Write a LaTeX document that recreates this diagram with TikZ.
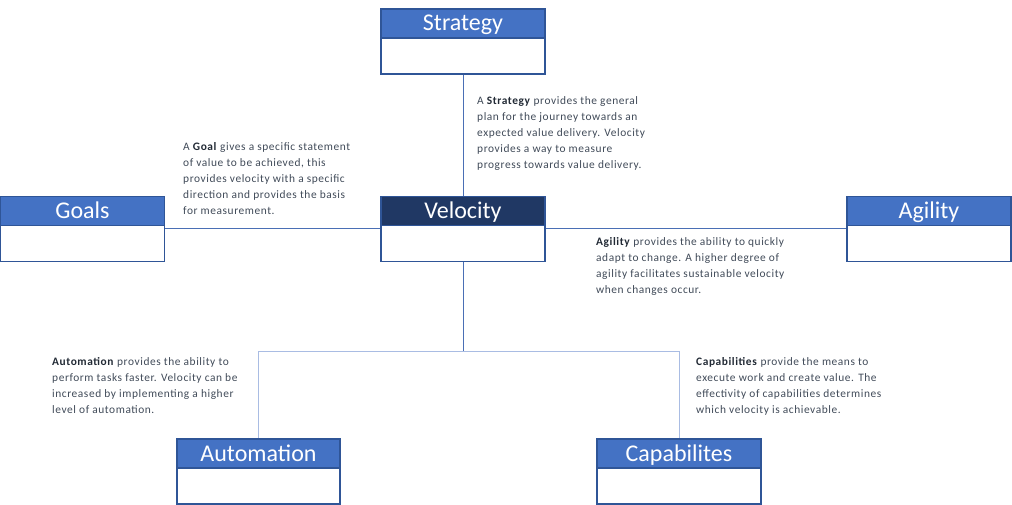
\documentclass[tikz,border=0pt]{standalone}
\usepackage{fontspec}
\setmainfont{Carlito}
\newfontfamily\descfont[LetterSpace=5]{Carlito}
\definecolor{hdr}{HTML}{4472C4}
\definecolor{hdrdark}{HTML}{203864}
\definecolor{bord}{HTML}{2F5597}
\definecolor{conn}{HTML}{4A6FB5}
\definecolor{connlight}{HTML}{A9BCE3}
\definecolor{txt}{HTML}{404A58}
\definecolor{txtb}{HTML}{222A35}
\tikzset{
  box/.style={draw=bord, line width=1.2pt, fill=white, minimum width=164pt, minimum height=65pt, inner sep=0pt},
  head/.style={draw=bord, line width=1.2pt, fill=hdr, text=white, minimum width=164pt, minimum height=29pt, inner sep=0pt, text height=18pt, text depth=3pt, font=\fontsize{24}{26}\selectfont},
  desc/.style={align=left, inner sep=0pt, text=txt, font=\descfont\fontsize{11.4}{16}\selectfont, anchor=north west},
  link/.style={draw=conn, line width=1pt},
  linklight/.style={draw=connlight, line width=1pt},
}
\newcommand{\kw}[1]{\textcolor{txtb}{\textbf{#1}}}
\begin{document}
\begin{tikzpicture}[x=1pt,y=-1pt]
\useasboundingbox (0,0) rectangle (1012,505);
% boxes
\node[box] (strat) at (463,41.5) {};
\node[head, anchor=north] (strath) at (strat.north) {Strategy};
\node[box, minimum width=164pt] (goals) at (82.5,229) {};
\node[head, anchor=north] (goalsh) at (goals.north) {Goals};
\node[box] (velo) at (463,229) {};
\node[head, anchor=north, fill=hdrdark] (veloh) at (velo.north) {Velocity};
\node[box] (agil) at (929,229) {};
\node[head, anchor=north] (agilh) at (agil.north) {Agility};
\node[box, minimum width=163pt] (auto) at (258.5,471.5) {};
\node[head, anchor=north, minimum width=163pt] (autoh) at (auto.north) {Automation};
\node[box] (capa) at (679,471.5) {};
\node[head, anchor=north] (capah) at (capa.north) {Capabilites};
% connectors
\coordinate (junc) at (463,351);
\draw[link] (strat.south) -- (velo.north);
\draw[link] (goals.east) -- (velo.west);
\draw[link] (velo.east) -- (agil.west);
\draw[link] (velo.south) -- (junc);
\draw[linklight] (junc) -| (auto.north);
\draw[linklight] (junc) -| (capa.north);
% descriptions
\node[desc] (dstrat) at (477,96) {A \kw{Strategy} provides the general\\plan for the journey towards an\\expected value delivery. Velocity\\provides a way to measure\\progress towards value delivery.};
\node[desc] (dgoal) at (183,142) {A \kw{Goal} gives a specific statement\\of value to be achieved, this\\provides velocity with a specific\\direction and provides the basis\\for measurement.};
\node[desc] (dagil) at (596,237) {\kw{Agility} provides the ability to quickly\\adapt to change. A higher degree of\\agility facilitates sustainable velocity\\when changes occur.};
\node[desc] (dauto) at (52,357) {\kw{Automation} provides the ability to\\perform tasks faster. Velocity can be\\increased by implementing a higher\\level of automation.};
\node[desc] (dcapa) at (696,357) {\kw{Capabilities} provide the means to\\execute work and create value. The\\effectivity of capabilities determines\\which velocity is achievable.};
\end{tikzpicture}
\end{document}
